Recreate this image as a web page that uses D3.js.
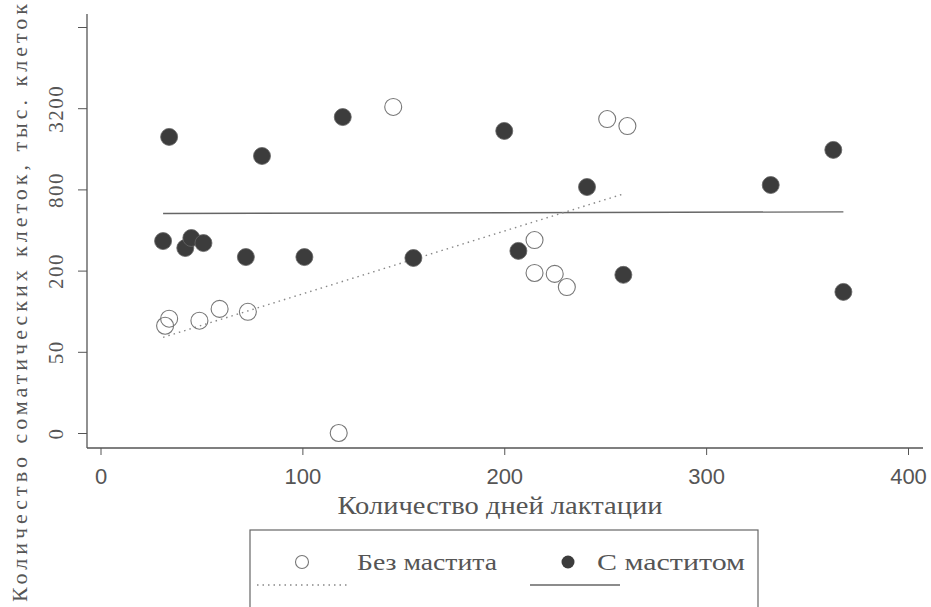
<!DOCTYPE html>
<html lang="ru">
  <head>
    <meta charset="UTF-8" />
    <title>Соматические клетки</title>
    <style>
      body { margin: 0; background: #fff; }
      text { fill: #555; }
    </style>
  </head>
  <body>
    <svg id="svg" width="931" height="607"></svg>

    <script src="https://cdn.jsdelivr.net/npm/d3@7"></script>
    <script>
      // дни лактации / соматические клетки, тыс.
      const noMastDays = [32, 34, 49, 59, 73, 118, 145, 215, 215, 225, 231, 251, 261];
      const noMastScc = [78, 88, 85, 104, 99, 0, 3270, 337, 192, 189, 151, 2660, 2360];
      const mastDays = [34, 80, 120, 200, 31, 42, 45, 51, 72, 101, 155, 207, 241, 259, 332, 363, 368];
      const mastScc = [1960, 1415, 2750, 2170, 331, 294, 349, 320, 252, 252, 248, 280, 833, 186, 862, 1570, 139];
      // линии регрессии (концы)
      const fitNoDays = [31, 259];
      const fitNoScc = [64, 740];
      const fitMastDays = [31, 368];
      const fitMastScc = [530, 545];

      const xTicks = [0, 100, 200, 300, 400];
      const yTickValues = [0, 50, 200, 800, 3200, 12800];
      const yTickLabels = ["0", "50", "200", "800", "3200", ""];
      const legendLabels = ["Без мастита", "С маститом"];

      const LEFT = 87, RIGHT = 923, TOP = 14, BOTTOM = 448;
      const ZERO = 12.5; // ноль рисуется на месте 12.5

      const svg = d3.select("#svg");
      const xScale = d3.scaleLinear().domain([0, 400]).range([100.5, 908]);
      const yLog = d3.scaleLog().domain([ZERO, 12800]).range([433, 27]);
      const yScale = (v) => yLog(Math.max(v, ZERO));

      // оси
      svg.append("line")
        .attr("x1", LEFT).attr("x2", LEFT).attr("y1", TOP).attr("y2", BOTTOM)
        .attr("stroke", "#555").attr("stroke-width", 1.3);
      svg.append("line")
        .attr("x1", LEFT).attr("x2", RIGHT).attr("y1", BOTTOM).attr("y2", BOTTOM)
        .attr("stroke", "#555").attr("stroke-width", 1.3);

      const xAxis = svg.append("g")
        .attr("transform", `translate(0, ${BOTTOM})`)
        .call(d3.axisBottom(xScale).tickValues(xTicks).tickSize(7).tickSizeOuter(0).tickPadding(13));
      xAxis.select(".domain").remove();
      xAxis.selectAll("line").attr("stroke", "#555");
      xAxis.selectAll("text")
        .attr("font-family", "Liberation Sans, Arial, sans-serif")
        .attr("font-size", 22)
        .attr("fill", "#666");

      const yAxis = svg.append("g")
        .attr("transform", `translate(${LEFT}, 0)`)
        .call(
          d3.axisLeft(yLog)
            .tickValues(yTickValues.map((v) => Math.max(v, ZERO)))
            .tickFormat((d, i) => yTickLabels[i])
            .tickSize(9)
            .tickSizeOuter(0)
        );
      yAxis.select(".domain").remove();
      yAxis.selectAll("line").attr("stroke", "#555");
      yAxis.selectAll("text")
        .attr("x", 0)
        .attr("y", -31)
        .attr("dy", "0.35em")
        .attr("text-anchor", "middle")
        .attr("transform", "rotate(-90)")
        .attr("font-family", "Liberation Serif, serif")
        .attr("font-size", 21)
        .attr("letter-spacing", 1.5)
        .attr("fill", "#555");

      // подписи осей
      svg.append("text")
        .attr("x", 500)
        .attr("y", 514)
        .attr("text-anchor", "middle")
        .attr("font-family", "Liberation Serif, serif")
        .attr("font-size", 25)
        .attr("textLength", 325)
        .attr("lengthAdjust", "spacingAndGlyphs")
        .text("Количество дней лактации");

      svg.append("text")
        .attr("transform", "translate(27, 602) rotate(-90)")
        .attr("font-family", "Liberation Serif, serif")
        .attr("font-size", 22)
        .attr("textLength", 598)
        .attr("lengthAdjust", "spacing")
        .text("Количество соматических клеток, тыс. клеток");

      // линии регрессии
      const line = d3.line().x((d) => xScale(d[0])).y((d) => yScale(d[1]));
      svg.append("path")
        .attr("d", line(d3.zip(fitMastDays, fitMastScc)))
        .attr("fill", "none")
        .attr("stroke", "#666")
        .attr("stroke-width", 1.4);
      svg.append("path")
        .attr("d", line(d3.zip(fitNoDays, fitNoScc)))
        .attr("fill", "none")
        .attr("stroke", "#888")
        .attr("stroke-width", 1.4)
        .attr("stroke-dasharray", "1.5,4");

      // точки
      const R = 8.5;
      svg.append("g")
        .selectAll("circle")
        .data(d3.zip(mastDays, mastScc))
        .join("circle")
        .attr("cx", (d) => xScale(d[0]))
        .attr("cy", (d) => yScale(d[1]))
        .attr("r", R)
        .attr("fill", "#3c3c3c")
        .attr("stroke", "#666")
        .attr("stroke-width", 0.8);

      svg.append("g")
        .selectAll("circle")
        .data(d3.zip(noMastDays, noMastScc))
        .join("circle")
        .attr("cx", (d) => xScale(d[0]))
        .attr("cy", (d) => yScale(d[1]))
        .attr("r", R)
        .attr("fill", "none")
        .attr("stroke", "#777")
        .attr("stroke-width", 1.1);

      // легенда
      const legend = svg.append("g").attr("transform", "translate(250, 530)");
      legend.append("rect")
        .attr("width", 508).attr("height", 100)
        .attr("fill", "none").attr("stroke", "#666").attr("stroke-width", 1.2);
      legend.append("circle")
        .attr("cx", 52).attr("cy", 32).attr("r", 6.5)
        .attr("fill", "none").attr("stroke", "#777").attr("stroke-width", 1.1);
      legend.append("circle")
        .attr("cx", 318).attr("cy", 32).attr("r", 6.5)
        .attr("fill", "#3c3c3c");
      legend.selectAll("text.lbl")
        .data(legendLabels)
        .join("text")
        .attr("class", "lbl")
        .attr("x", (d, i) => (i === 0 ? 107 : 347))
        .attr("y", 40)
        .attr("font-family", "Liberation Serif, serif")
        .attr("font-size", 24)
        .attr("textLength", (d, i) => (i === 0 ? 140 : 148))
        .attr("lengthAdjust", "spacingAndGlyphs")
        .text((d) => d);
      legend.append("line")
        .attr("x1", 7).attr("x2", 100).attr("y1", 55).attr("y2", 55)
        .attr("stroke", "#888").attr("stroke-width", 1.3).attr("stroke-dasharray", "1.5,4");
      legend.append("line")
        .attr("x1", 280).attr("x2", 370).attr("y1", 55).attr("y2", 55)
        .attr("stroke", "#666").attr("stroke-width", 1.3);
    </script>
  </body>
</html>
